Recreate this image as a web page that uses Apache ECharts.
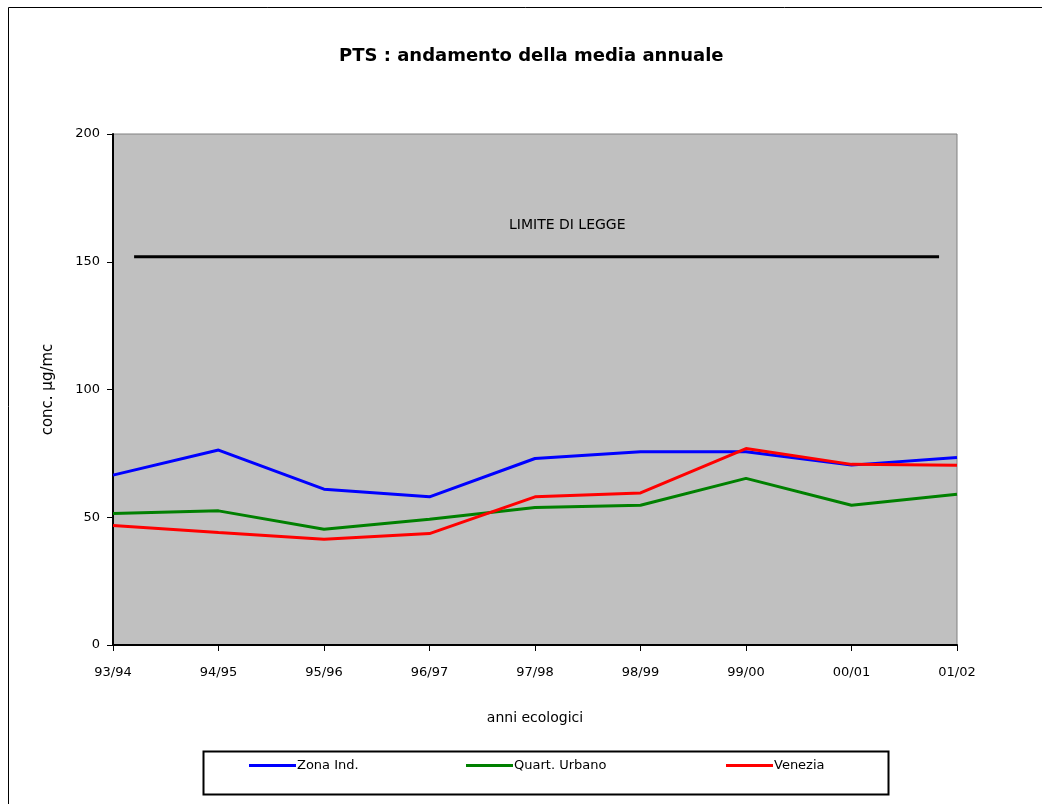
<!DOCTYPE html>
<html>
<head>
<meta charset="utf-8">
<script src="https://cdn.jsdelivr.net/npm/echarts@6/dist/echarts.min.js"></script>
<style>
  html, body { margin: 0; padding: 0; background: #ffffff; }
  #chart { width: 1042px; height: 804px; }
</style>
</head>
<body>
<div id="chart"></div>
<script>
// PTS annual means per monitoring area
const years = ['93/94', '94/95', '95/96', '96/97', '97/98', '98/99', '99/00', '00/01', '01/02'];
const zonaInd = [66.5, 76.3, 61.0, 58.0, 73.0, 75.6, 75.6, 70.4, 73.4];
const quartUrbano = [51.5, 52.5, 45.3, 49.2, 53.8, 54.7, 65.2, 54.7, 59.0];
const venezia = [46.8, 44.0, 41.4, 43.6, 58.0, 59.5, 76.9, 70.7, 70.4];
// legal limit segment: [category position, value]
const limitLine = [[0.2, 152], [7.83, 152]];
const yTicks = { min: 0, max: 200, interval: 50 };

const FONT = 'DejaVu Sans';
const chart = echarts.init(document.getElementById('chart'), null, { renderer: 'canvas' });

function legendFor(name, left) {
  return {
    data: [name],
    left: left,
    top: 759,
    icon: 'rect',
    itemWidth: 47,
    itemHeight: 3,
    itemGap: 0,
    padding: 0,
    textStyle: { fontFamily: FONT, fontSize: 13, color: '#000', padding: [0, 0, 0, -4] }
  };
}

chart.setOption({
  animation: false,
  backgroundColor: '#ffffff',
  title: {
    text: 'PTS : andamento della media annuale',
    left: 334,
    top: 42,
    textStyle: { fontFamily: FONT, fontSize: 18, fontWeight: 'bold', color: '#000' }
  },
  grid: {
    left: 113, top: 134, right: 85, bottom: 159,
    show: true,
    backgroundColor: '#c0c0c0',
    borderColor: '#808080',
    borderWidth: 1
  },
  legend: [
    legendFor('Zona Ind.', 249),
    legendFor('Quart. Urbano', 466),
    legendFor('Venezia', 726)
  ],
  xAxis: [
    {
      type: 'category',
      data: years,
      boundaryGap: false,
      name: 'anni ecologici',
      nameLocation: 'middle',
      nameGap: 66,
      nameTextStyle: { fontFamily: FONT, fontSize: 14, color: '#000' },
      axisLine: { lineStyle: { color: '#000', width: 2 } },
      axisTick: { alignWithLabel: true, length: 6, lineStyle: { color: '#000', width: 1 } },
      axisLabel: { fontFamily: FONT, fontSize: 13, color: '#000', margin: 21 },
      splitLine: { show: false }
    },
    {
      type: 'value',
      min: 0,
      max: years.length - 1,
      show: false
    }
  ],
  yAxis: {
    type: 'value',
    min: yTicks.min,
    max: yTicks.max,
    interval: yTicks.interval,
    name: 'conc. µg/mc',
    nameLocation: 'middle',
    nameGap: 57,
    nameRotate: 90,
    nameTextStyle: { fontFamily: FONT, fontSize: 15, color: '#000' },
    axisLine: { show: true, lineStyle: { color: '#000', width: 2 } },
    axisTick: { show: true, length: 6, lineStyle: { color: '#000', width: 1 } },
    axisLabel: { fontFamily: FONT, fontSize: 13, color: '#000', margin: 13 },
    splitLine: { show: false }
  },
  graphic: [
    {
      type: 'rect',
      shape: { x: 8.5, y: 7.5, width: 1040, height: 800 },
      style: { fill: 'none', stroke: '#000', lineWidth: 1 },
      silent: true
    },
    {
      type: 'rect',
      shape: { x: 203.5, y: 751.5, width: 685, height: 43 },
      style: { fill: 'none', stroke: '#000', lineWidth: 2 },
      silent: true
    },
    {
      type: 'text',
      left: 509,
      top: 218,
      style: { text: 'LIMITE DI LEGGE', fontFamily: FONT, fontSize: 14, fill: '#000' },
      silent: true
    }
  ],
  series: [
    {
      name: 'limite',
      type: 'line',
      xAxisIndex: 1,
      data: limitLine,
      symbol: 'none',
      lineStyle: { color: '#000', width: 3 },
      silent: true
    },
    {
      name: 'Zona Ind.',
      type: 'line',
      data: zonaInd,
      symbol: 'none',
      color: '#0000ff',
      lineStyle: { color: '#0000ff', width: 3 }
    },
    {
      name: 'Quart. Urbano',
      type: 'line',
      data: quartUrbano,
      symbol: 'none',
      color: '#008000',
      lineStyle: { color: '#008000', width: 3 }
    },
    {
      name: 'Venezia',
      type: 'line',
      data: venezia,
      symbol: 'none',
      color: '#ff0000',
      lineStyle: { color: '#ff0000', width: 3 }
    }
  ]
});
</script>
</body>
</html>
